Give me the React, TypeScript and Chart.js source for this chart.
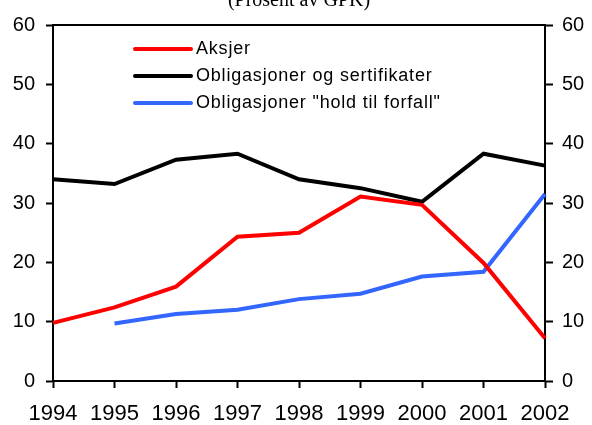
import React, { useEffect, useRef } from "react";
import { Chart, registerables } from "chart.js";

Chart.register(...registerables);

const years = ["1994", "1995", "1996", "1997", "1998", "1999", "2000", "2001", "2002"];
const aksjer = [9.8, 12.4, 15.9, 24.3, 25.0, 31.1, 29.7, 19.9, 7.2];
const obligasjoner = [34.0, 33.2, 37.3, 38.3, 34.0, 32.5, 30.2, 38.3, 36.3];
const holdTilForfall = [null, 9.7, 11.3, 12.0, 13.8, 14.7, 17.6, 18.4, 31.5];
const seriesNames = ["Aksjer", "Obligasjoner og sertifikater", 'Obligasjoner "hold til forfall"'];
const titleText = "(Prosent av GPK)";

const FONT = "'Liberation Sans', Arial, sans-serif";

const framePlugin = {
  id: "frameAndExtras",
  afterDraw(chart: any) {
    const { ctx, chartArea } = chart;
    ctx.save();
    // top border
    ctx.strokeStyle = "#000";
    ctx.lineWidth = 2;
    ctx.beginPath();
    ctx.moveTo(chartArea.left, chartArea.top);
    ctx.lineTo(chartArea.right, chartArea.top);
    ctx.stroke();
    // title
    ctx.fillStyle = "#000";
    ctx.font = "20px 'Liberation Serif', 'Times New Roman', serif";
    ctx.textAlign = "center";
    ctx.textBaseline = "alphabetic";
    ctx.fillText(titleText, (chartArea.left + chartArea.right) / 2, 6);
    // legend
    ctx.font = "18px " + FONT;
    try { (ctx as any).letterSpacing = "0.8px"; } catch (e) {}
    ctx.textAlign = "left";
    ctx.textBaseline = "middle";
    chart.data.datasets.forEach((ds: any, i: number) => {
      const y = 49 + i * 27;
      ctx.strokeStyle = ds.borderColor;
      ctx.lineWidth = 4;
      ctx.lineCap = "round";
      ctx.beginPath();
      ctx.moveTo(135, y);
      ctx.lineTo(191, y);
      ctx.stroke();
      ctx.fillStyle = "#000";
      ctx.fillText(ds.label, 196, y);
    });
    ctx.restore();
  },
};

export default function App() {
  const ref = useRef<HTMLCanvasElement>(null);
  useEffect(() => {
    if (!ref.current) return;
    const tickFont = { family: FONT, size: 20 };
    const chart = new Chart(ref.current, {
      type: "line",
      data: {
        labels: years,
        datasets: [
          { label: seriesNames[0], data: aksjer, borderColor: "#ff0000", borderWidth: 4, pointRadius: 0, yAxisID: "y" },
          { label: seriesNames[1], data: obligasjoner, borderColor: "#000000", borderWidth: 4, pointRadius: 0, yAxisID: "y" },
          { label: seriesNames[2], data: holdTilForfall as any, borderColor: "#3366ff", borderWidth: 4, pointRadius: 0, yAxisID: "y" },
        ],
      },
      options: {
        responsive: false,
        animation: false,
        layout: { padding: { top: 25, left: 0, right: 0, bottom: 0 } },
        plugins: { legend: { display: false }, title: { display: false }, tooltip: { enabled: false } },
        scales: {
          x: {
            type: "category",
            offset: false,
            grid: { drawOnChartArea: false, drawTicks: true, tickLength: 7, tickWidth: 2, color: "#000" },
            border: { display: true, color: "#000", width: 2 },
            ticks: { color: "#000", font: { family: FONT, size: 22 }, padding: 13, maxRotation: 0, autoSkip: false },
            afterFit: (s: any) => { s.height = 44; },
          },
          y: {
            position: "left",
            min: 0,
            max: 60,
            grid: { drawOnChartArea: false, drawTicks: true, tickLength: 7, tickWidth: 2, color: "#000" },
            border: { display: true, color: "#000", width: 2 },
            ticks: { color: "#000", font: tickFont, stepSize: 10, padding: 11 },
            afterFit: (s: any) => { s.width = 53; },
          },
          y2: {
            position: "right",
            min: 0,
            max: 60,
            grid: { drawOnChartArea: false, drawTicks: true, tickLength: 8, tickWidth: 2, color: "#000" },
            border: { display: true, color: "#000", width: 2 },
            ticks: { color: "#000", font: tickFont, stepSize: 10, padding: 9 },
            afterFit: (s: any) => { s.width = 47; },
          },
        },
      },
      plugins: [framePlugin],
    });
    return () => chart.destroy();
  }, []);
  return (
    <div style={{ position: "absolute", left: 0, top: 0, width: 592, height: 425, background: "#fff" }}>
      <canvas ref={ref} width={592} height={425} style={{ display: "block" }} />
    </div>
  );
}
